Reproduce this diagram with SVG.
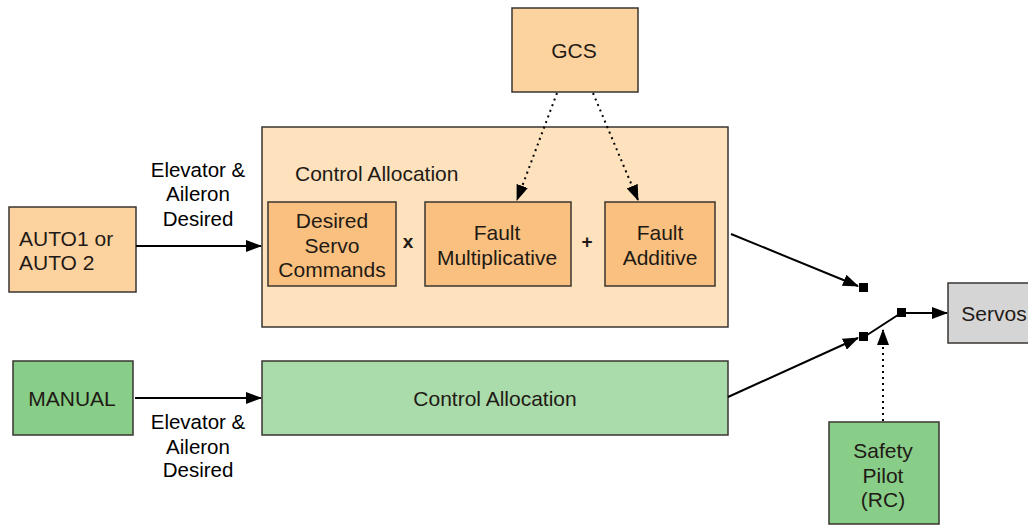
<svg xmlns="http://www.w3.org/2000/svg" width="1028" height="525" viewBox="0 0 1028 525">
<style>
text{font-family:"Liberation Sans",Arial,Helvetica,sans-serif;font-size:21px;fill:#1f1a15;text-anchor:middle;dominant-baseline:central}
.lab{fill:#000;font-size:20.5px}
.op{font-weight:bold;font-size:19px}
.box{stroke:#3a3530;stroke-width:1.5}
.or1{fill:#fde2bd}
.or2{fill:#f9c07f}
.or3{fill:#fcd29f}
.gr1{fill:#88cd88}
.gr2{fill:#aadbaa}
.gry{fill:#d5d5d5}
.ln{stroke:#000;stroke-width:2;fill:none}
.dot{stroke:#000;stroke-width:2;fill:none;stroke-dasharray:2 4}
.sq{fill:#000}
</style>
<defs>
<marker id="ah" markerWidth="16" markerHeight="12" refX="15" refY="6" orient="auto" markerUnits="userSpaceOnUse">
<path d="M0,0 L16,6 L0,12 Z" fill="#000"/>
</marker>
</defs>
<rect width="1028" height="525" fill="#fff"/>
<g id="gcs"><rect class="box or3" x="512" y="8" width="126" height="84"/><text x="574" y="50">GCS</text></g>
<g id="ca-auto"><rect class="box or1" x="262" y="127" width="466" height="200"/><text x="295" y="173" style="text-anchor:start">Control Allocation</text></g>
<g id="desired"><rect class="box or2" x="268" y="202" width="128" height="84"/><text x="332" y="220">Desired</text><text x="332" y="245">Servo</text><text x="332" y="269">Commands</text></g>
<g id="mult"><rect class="box or2" x="425" y="202" width="146" height="84"/><text x="497" y="232">Fault</text><text x="497" y="257">Multiplicative</text></g>
<g id="add"><rect class="box or2" x="605" y="202" width="110" height="84"/><text x="660" y="232">Fault</text><text x="660" y="257">Additive</text></g>
<g id="ops"><text class="op" x="408" y="241">x</text><text class="op" x="587" y="241">+</text></g>
<g id="auto"><rect class="box or3" x="9" y="207" width="127" height="85"/><text x="19" y="238" style="text-anchor:start">AUTO1 or</text><text x="19" y="262" style="text-anchor:start">AUTO 2</text></g>
<g id="manual"><rect class="box gr1" x="13" y="361" width="120" height="74"/><text x="72" y="398">MANUAL</text></g>
<g id="ca-manual"><rect class="box gr2" x="262" y="361" width="466" height="74"/><text x="495" y="398">Control Allocation</text></g>
<g id="safety"><rect class="box gr1" x="829" y="422" width="110" height="102"/><text x="883" y="450">Safety</text><text x="883" y="475">Pilot</text><text x="883" y="499">(RC)</text></g>
<g id="servos"><rect class="box gry" x="948" y="283" width="90" height="60"/><text x="994" y="313">Servos</text></g>
<g id="connectors">
<line class="ln" x1="136" y1="246" x2="261" y2="246" marker-end="url(#ah)"/>
<line class="ln" x1="135" y1="398" x2="261" y2="398" marker-end="url(#ah)"/>
<line class="dot" x1="557" y1="93" x2="517" y2="200" marker-end="url(#ah)"/>
<line class="dot" x1="593" y1="93" x2="638" y2="200" marker-end="url(#ah)"/>
<line class="ln" x1="731" y1="234" x2="858" y2="286" marker-end="url(#ah)"/>
<line class="ln" x1="728" y1="397" x2="858" y2="338" marker-end="url(#ah)"/>
<line class="ln" x1="864" y1="337" x2="901" y2="313"/>
<line class="ln" x1="901" y1="313" x2="947" y2="313" marker-end="url(#ah)"/>
<line class="dot" x1="883" y1="421" x2="883" y2="330" marker-end="url(#ah)"/>
<rect class="sq" x="859" y="283" width="9" height="9"/>
<rect class="sq" x="859" y="332" width="9" height="9"/>
<rect class="sq" x="897" y="308" width="9" height="9"/>
</g>
<g id="labels">
<text class="lab" x="198" y="169">Elevator &amp;</text><text class="lab" x="198" y="193">Aileron</text><text class="lab" x="198" y="218">Desired</text>
<text class="lab" x="198" y="421">Elevator &amp;</text><text class="lab" x="198" y="446">Aileron</text><text class="lab" x="198" y="469">Desired</text>
</g>
</svg>
